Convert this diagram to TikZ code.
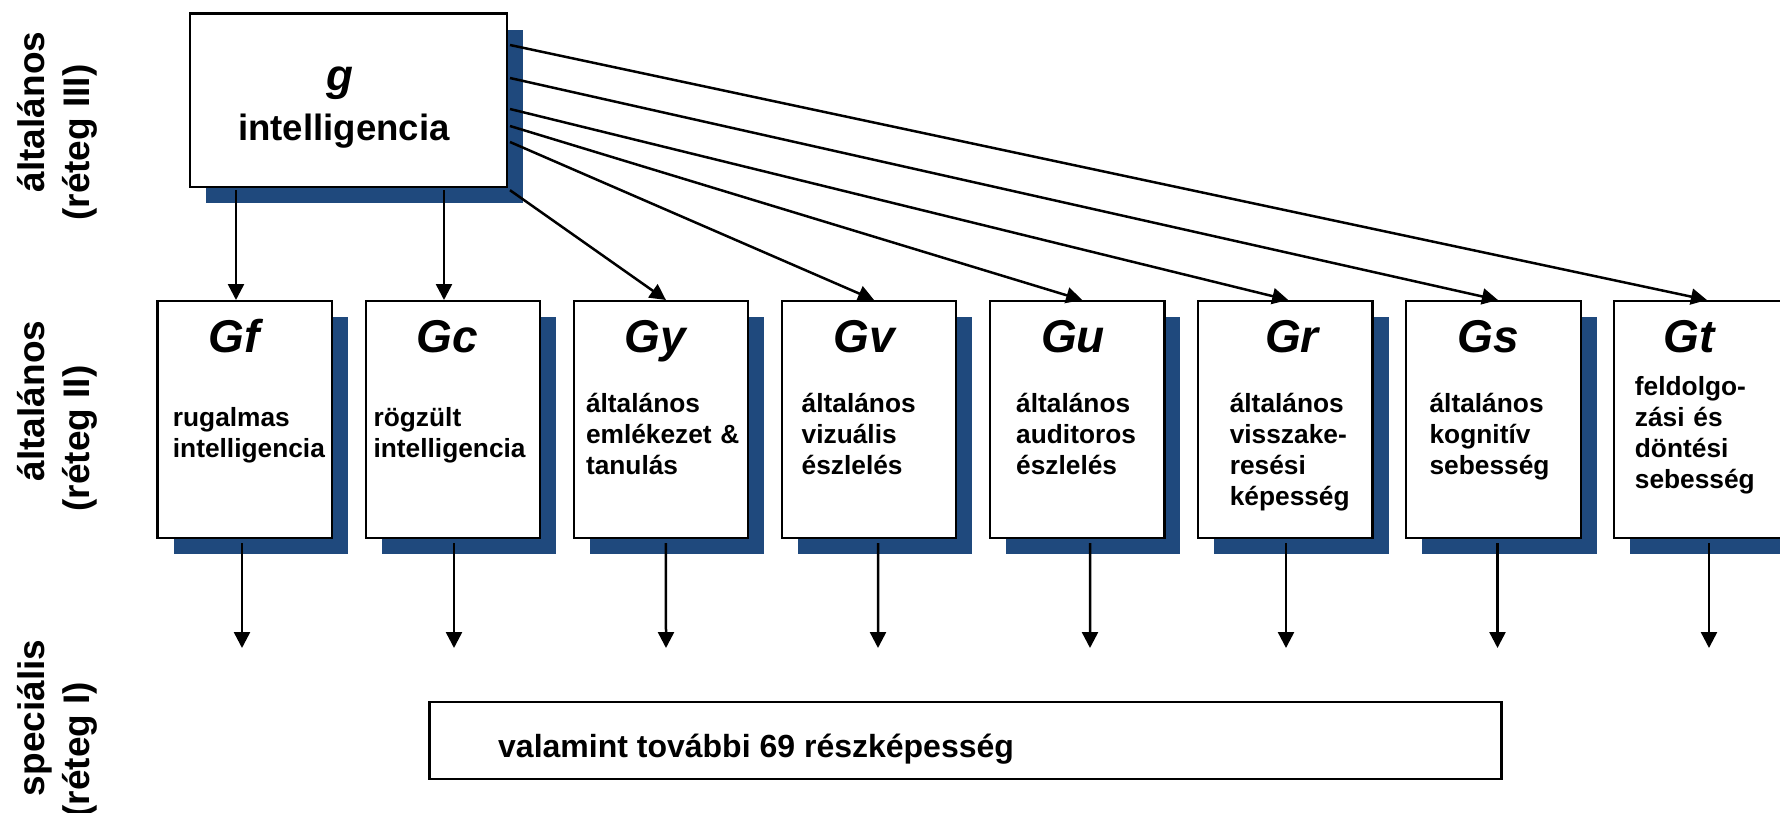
\documentclass[tikz,border=0pt]{standalone}
\usepackage{fontspec}
\setmainfont{Liberation Sans}
\usetikzlibrary{arrows.meta,shadows}
\definecolor{shadowblue}{RGB}{31,73,125}
\tikzset{
  box/.style={draw=black, fill=white, line width=2.2pt, inner sep=0pt, outer sep=0pt,
    drop shadow={shadow xshift=16pt, shadow yshift=-16pt, fill=shadowblue, opacity=1}},
  l2box/.style={box, minimum width=174.5pt, minimum height=237pt, anchor=north west},
  head/.style={font=\fontsize{46}{50}\selectfont\bfseries\itshape, anchor=base, inner sep=0pt},
  body/.style={font=\fontsize{26.3}{31}\selectfont\bfseries, anchor=base west, align=left, text width=168pt, inner sep=0pt},
  side/.style={font=\fontsize{37}{44}\selectfont\bfseries, rotate=90, anchor=base, inner sep=0pt},
  arr/.style={line width=2.5pt, -{Triangle[length=16pt,width=16pt]}}
}
\begin{document}
\begin{tikzpicture}[x=1pt,y=-1pt]
\useasboundingbox (0,0) rectangle (1780,813);
\clip (0,0) rectangle (1780,813);
\fill[white] (0,0) rectangle (1780,813);

% side labels
\node[side] (l3a) at (44,112) {általános};
\node[side] (l3b) at (89.5,142.5) {(réteg III)};
\node[side] (l2a) at (44,401) {általános};
\node[side] (l2b) at (89.5,438.5) {(réteg II)};
\node[side] (l1a) at (44,718) {speciális};
\node[side] (l1b) at (89.5,749.5) {(réteg I)};

% g box
\node[box, minimum width=317.4pt, minimum height=173.6pt, anchor=north west] (g) at (189.6,13.6) {};
\node[font=\fontsize{44}{50}\selectfont\bfseries\itshape, anchor=base, inner sep=0pt] (gsym) at (340,91) {g};
\node[font=\fontsize{36.6}{42}\selectfont\bfseries, anchor=base, inner sep=0pt] (gtxt) at (344,141) {intelligencia};

% layer II boxes
\node[l2box] (Gf) at (157.5,301) {};
\node[l2box] (Gc) at (365.6,301) {};
\node[l2box] (Gy) at (573.7,301) {};
\node[l2box] (Gv) at (781.8,301) {};
\node[l2box] (Gu) at (989.9,301) {};
\node[l2box] (Gr) at (1198,301) {};
\node[l2box] (Gs) at (1406.1,301) {};
\node[l2box] (Gt) at (1614.2,301) {};

\node[head] (Gfh) at (234,352) {Gf};
\node[head] (Gch) at (447.5,352) {Gc};
\node[head] (Gyh) at (655,352) {Gy};
\node[head] (Gvh) at (864,352) {Gv};
\node[head] (Guh) at (1073,352) {Gu};
\node[head] (Grh) at (1292,352) {Gr};
\node[head] (Gsh) at (1488,352) {Gs};
\node[head] (Gth) at (1689,352) {Gt};

\node[body] (Gft) at (172.7,426) {rugalmas\\intelligencia};
\node[body] (Gct) at (373.4,426) {rögzült\\intelligencia};
\node[body] (Gyt) at (585.8,412) {általános\\emlékezet \&\\tanulás};
\node[body] (Gvt) at (801.5,412) {általános\\vizuális\\észlelés};
\node[body] (Gut) at (1016,412) {általános\\auditoros\\észlelés};
\node[body] (Grt) at (1229.6,412) {általános\\visszake-\\resési\\képesség};
\node[body] (Gst) at (1429.4,412) {általános\\kognitív\\sebesség};
\node[body] (Gtt) at (1634.7,395) {feldolgo-\\zási és\\döntési\\sebesség};

% bottom box
\node[draw=black, line width=2.2pt, fill=white, minimum width=1072pt, minimum height=77pt, anchor=north west, inner sep=0pt, outer sep=0pt] (rest) at (429.5,702) {};
\node[font=\fontsize{32}{38}\selectfont\bfseries, anchor=base west, inner sep=0pt] (resttxt) at (498,757) {valamint további 69 részképesség};

% arrows from g
\draw[arr] ([shift={(46.4,3)}]g.south west) -- ([shift={(-8.75,-1)}]Gf.north);
\draw[arr] ([shift={(254.4,3)}]g.south west) -- ([shift={(-8.85,-1)}]Gc.north);
\draw[arr] ([shift={(3,3)}]g.south east) -- ([shift={(5,-1)}]Gy.north);
\draw[arr] ([shift={(3,128.4)}]g.north east) -- ([shift={(5,-1)}]Gv.north);
\draw[arr] ([shift={(3,112.4)}]g.north east) -- ([shift={(5,-1)}]Gu.north);
\draw[arr] ([shift={(3,95.4)}]g.north east) -- ([shift={(3,-1)}]Gr.north);
\draw[arr] ([shift={(3,64.4)}]g.north east) -- ([shift={(4.6,-1)}]Gs.north);
\draw[arr] ([shift={(3,31.4)}]g.north east) -- ([shift={(5.5,-1)}]Gt.north);

% arrows down to layer I
\coordinate (Gfe) at (242,648);
\coordinate (Gce) at (454,648);
\coordinate (Gye) at (666,648);
\coordinate (Gve) at (878,648);
\coordinate (Gue) at (1090,648);
\coordinate (Gre) at (1286,648);
\coordinate (Gse) at (1497.5,648);
\coordinate (Gte) at (1709,648);
\draw[arr] ([shift={(-2.75,5)}]Gf.south) -- (Gfe);
\draw[arr] ([shift={(1.15,5)}]Gc.south) -- (Gce);
\draw[arr] ([shift={(5,5)}]Gy.south) -- (Gye);
\draw[arr] ([shift={(9,5)}]Gv.south) -- (Gve);
\draw[arr] ([shift={(12.9,5)}]Gu.south) -- (Gue);
\draw[arr] ([shift={(0.75,5)}]Gr.south) -- (Gre);
\draw[arr] ([shift={(4.15,5)}]Gs.south) -- (Gse);
\draw[arr] ([shift={(7.55,5)}]Gt.south) -- (Gte);
\end{tikzpicture}
\end{document}
